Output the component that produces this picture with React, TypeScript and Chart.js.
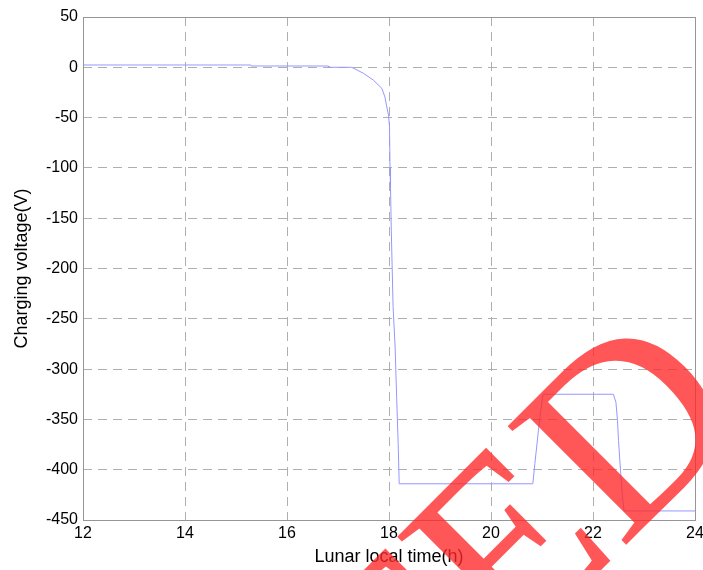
import React, { useEffect, useRef } from "react";
import { Chart, registerables } from "chart.js";

Chart.register(...registerables);

// Lunar local time (h) and surface charging voltage (V)
const hours = [
  12, 15.29, 15.3, 16.81, 16.82, 17.27, 17.5, 17.69, 17.86, 17.92, 17.95, 17.99,
  18.01, 18.02, 18.03, 18.045, 18.08, 18.12, 18.15, 18.18, 18.2,
  20.82, 20.86, 20.93, 20.96, 21.01, 21.03,
  22.4, 22.45, 22.48, 22.5, 22.54, 22.58, 22.61, 24,
];
const volts = [
  2.3, 2.3, 1.3, 1.3, 0, 0, -6, -12.6, -21, -29.5, -37.6, -47.5,
  -59, -100, -120, -162, -238, -278, -328, -374, -414,
  -414, -394, -361, -348, -328, -325,
  -325, -333, -351, -371, -401, -428, -441, -441,
];

const xTicks = [12, 14, 16, 18, 20, 22, 24];
const yTicks = [50, 0, -50, -100, -150, -200, -250, -300, -350, -400, -450];

const stampText = "FED";

const FONT = "'Liberation Sans', Arial, sans-serif";
const GRID = "rgb(175,175,175)";
const FRAME = "rgb(150,150,150)";

// Grey box around the plot area
const framePlugin = {
  id: "frame",
  afterDraw(chart: Chart) {
    const { ctx, chartArea: a } = chart;
    ctx.save();
    ctx.strokeStyle = FRAME;
    ctx.lineWidth = 1;
    ctx.strokeRect(Math.round(a.left) + 0.5, Math.round(a.top) + 0.5, Math.round(a.right - a.left), Math.round(a.bottom - a.top));
    ctx.restore();
  },
};

// Red stamp lettering over the plot
const stampPlugin = {
  id: "stamp",
  afterDraw(chart: Chart) {
    const { ctx } = chart;
    ctx.save();
    ctx.font = "256px 'Liberation Serif', 'Times New Roman', serif";
    ctx.fillStyle = "rgba(255,40,40,0.78)";
    ctx.textBaseline = "alphabetic";
    const lead = ctx.measureText(stampText.slice(0, -1)).width;
    ctx.translate(621, 550);
    ctx.rotate(-Math.PI / 4);
    ctx.textAlign = "left";
    ctx.fillText(stampText, -lead, 0);
    ctx.restore();
  },
};

export default function App() {
  const ref = useRef<HTMLCanvasElement>(null);

  useEffect(() => {
    if (!ref.current) return;
    const points = hours.map((h, i) => ({ x: h, y: volts[i] }));
    const edgeless = (ctx: any) => {
      const v = ctx.tick?.value;
      const s = ctx.scale;
      return v === s.min || v === s.max ? "rgba(0,0,0,0)" : GRID;
    };
    const chart = new Chart(ref.current, {
      type: "line",
      data: {
        datasets: [
          {
            data: points,
            borderColor: "rgb(150,150,255)",
            borderWidth: 1,
            pointRadius: 0,
            tension: 0,
            fill: false,
          },
        ],
      },
      options: {
        animation: false,
        responsive: false,
        maintainAspectRatio: false,
        layout: { padding: { top: 17, right: 8, left: 0, bottom: 0 } },
        plugins: { legend: { display: false }, tooltip: { enabled: false } },
        scales: {
          x: {
            type: "linear",
            min: 12,
            max: 24,
            afterBuildTicks: (s: any) => {
              s.ticks = xTicks.map((v) => ({ value: v }));
            },
            afterFit: (s: any) => {
              s.height = 50;
              s.paddingLeft = 0;
              s.paddingRight = 0;
            },
            ticks: { color: "#000", font: { family: FONT, size: 16 }, padding: 4, maxRotation: 0 },
            grid: { color: edgeless, lineWidth: 1, drawTicks: false, tickLength: 0 },
            border: { display: false, dash: [9, 6] },
            title: {
              display: true,
              text: "Lunar local time(h)",
              color: "#000",
              font: { family: FONT, size: 18 },
              padding: { top: 0, bottom: 2 },
            },
          },
          y: {
            type: "linear",
            min: -450,
            max: 50,
            afterBuildTicks: (s: any) => {
              s.ticks = yTicks.map((v) => ({ value: v }));
            },
            afterFit: (s: any) => {
              s.width = 83;
              s.paddingTop = 0;
              s.paddingBottom = 0;
            },
            ticks: { color: "#000", font: { family: FONT, size: 16 }, padding: 5 },
            grid: { color: edgeless, lineWidth: 1, drawTicks: false, tickLength: 0 },
            border: { display: false, dash: [9, 6] },
            title: {
              display: true,
              text: "Charging voltage(V)",
              color: "#000",
              font: { family: FONT, size: 18 },
              padding: { top: 11, bottom: 4 },
            },
          },
        },
      },
      plugins: [framePlugin, stampPlugin],
    });
    return () => chart.destroy();
  }, []);

  return (
    <div style={{ position: "fixed", left: 0, top: 0, width: 703, height: 570, background: "#fff" }}>
      <canvas ref={ref} width={703} height={570} />
    </div>
  );
}
